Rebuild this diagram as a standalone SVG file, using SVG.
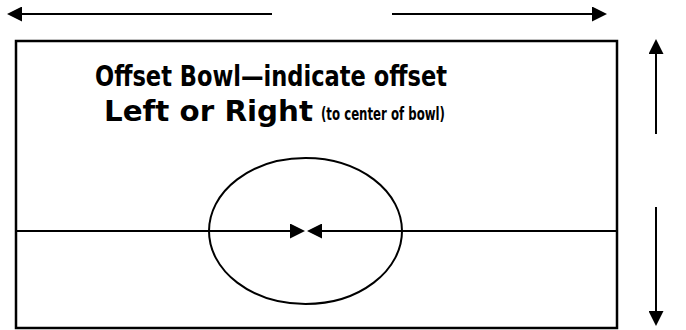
<svg xmlns="http://www.w3.org/2000/svg" width="686" height="330" viewBox="0 0 686 330">
<style>
.ln{stroke:#000;stroke-width:2;fill:none}
.t{font-family:Tahoma,"DejaVu Sans",Verdana,sans-serif;font-weight:bold;fill:#000}
</style>
<defs>
<marker id="hb" viewBox="0 0 15 15" refX="0" refY="7.5" markerWidth="15" markerHeight="15" markerUnits="userSpaceOnUse" orient="auto"><path d="M0,0 L15,7.5 L0,15 z" fill="#000"/></marker>
</defs>
<g id="frame">
<rect x="16" y="41" width="601" height="287" fill="#fff" stroke="#000" stroke-width="2.5"/>
</g>
<g id="bowl">
<ellipse cx="305.5" cy="231" rx="96.5" ry="73" class="ln"/>
</g>
<g id="title">
<text class="t" x="95" y="86" font-size="29" textLength="352" lengthAdjust="spacingAndGlyphs">Offset Bowl—indicate offset</text>
<text class="t" x="104" y="121" font-size="29" textLength="209" lengthAdjust="spacingAndGlyphs">Left or Right</text>
<text class="t" x="321" y="120" font-size="18" textLength="124" lengthAdjust="spacingAndGlyphs">(to center of bowl)</text>
</g>
<g id="connectors">
<line class="ln" x1="272" y1="14" x2="22" y2="14" marker-end="url(#hb)"/>
<line class="ln" x1="392" y1="14" x2="592" y2="14" marker-end="url(#hb)"/>
<line class="ln" x1="656" y1="134" x2="656" y2="54" marker-end="url(#hb)"/>
<line class="ln" x1="656" y1="207" x2="656" y2="311" marker-end="url(#hb)"/>
<line class="ln" x1="16" y1="231" x2="290" y2="231" marker-end="url(#hb)"/>
<line class="ln" x1="617" y1="231" x2="322" y2="231" marker-end="url(#hb)"/>
</g>
</svg>
